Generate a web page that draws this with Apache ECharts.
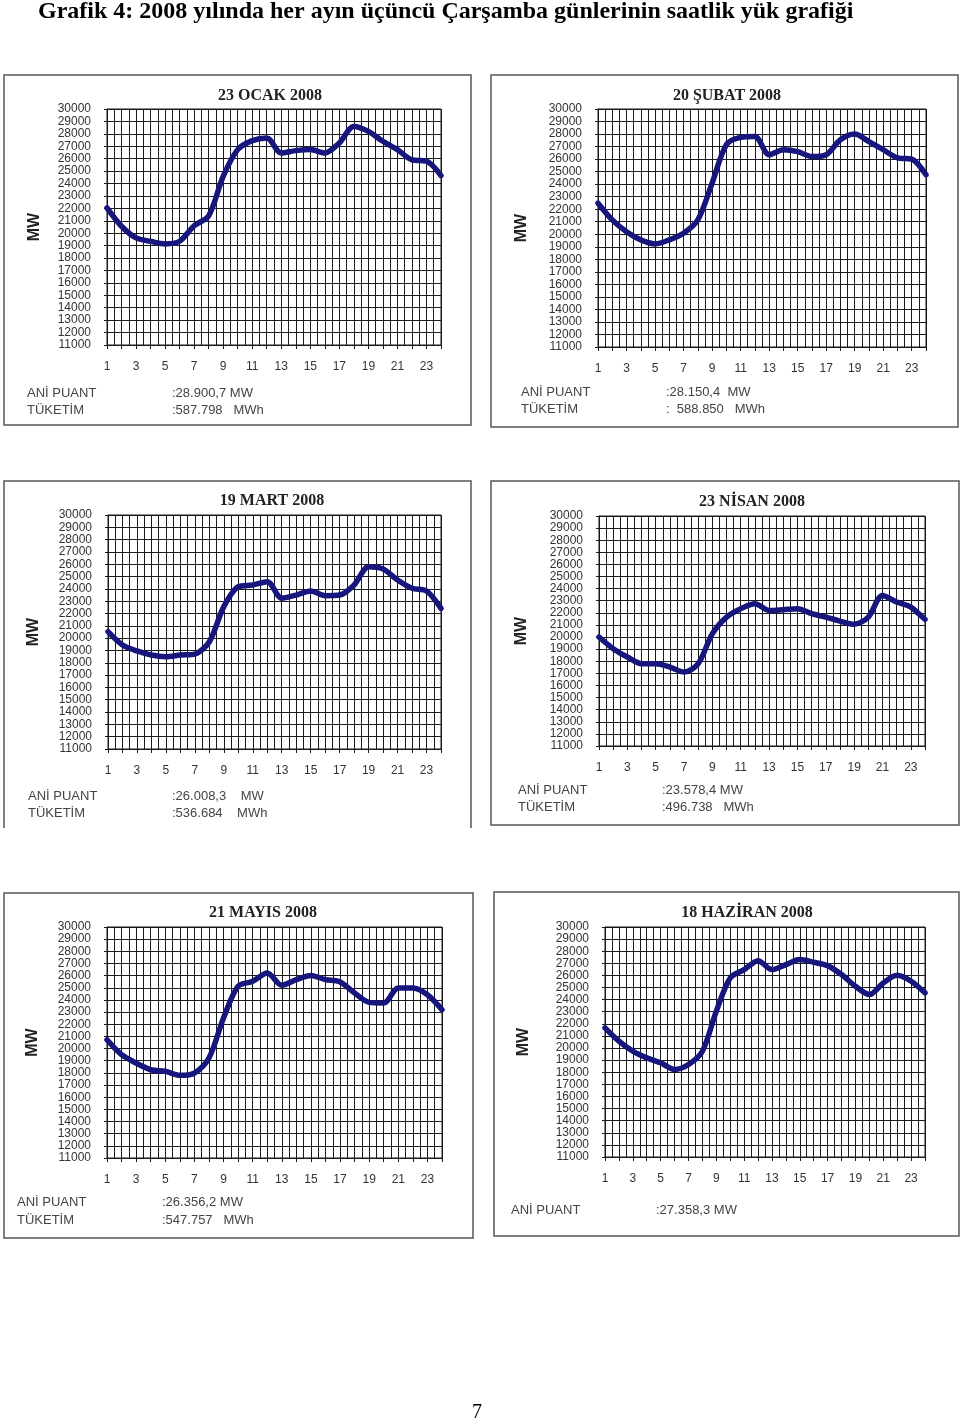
<!DOCTYPE html>
<html><head><meta charset="utf-8">
<script src="https://cdn.jsdelivr.net/npm/echarts@6/dist/echarts.min.js"></script>
<style>html,body{margin:0;padding:0;background:#fff}#c{width:960px;height:1423px}</style>
</head><body><div id="c"></div>
<script>
const hours = [1,2,3,4,5,6,7,8,9,10,11,12,13,14,15,16,17,18,19,20,21,22,23,24];
const yTicks = [11000,12000,13000,14000,15000,16000,17000,18000,19000,20000,21000,22000,23000,24000,25000,26000,27000,28000,29000,30000];
const pageTitle = 'Grafik 4: 2008 yılında her ayın üçüncü Çarşamba günlerinin saatlik yük grafiği';
const panelTitles = ['23 OCAK 2008','20 ŞUBAT 2008','19 MART 2008','23 NİSAN 2008','21 MAYIS 2008','18 HAZİRAN 2008'];
const ocak    = [22040,20560,19620,19350,19140,19350,20600,21400,24580,26730,27450,27670,26460,26650,26730,26460,27270,28600,28200,27400,26730,25900,25800,24640];
const subat   = [22480,21150,20200,19550,19230,19550,20080,21150,24080,27150,27730,27800,26350,26750,26600,26200,26350,27550,28000,27400,26750,26100,26000,24750];
const mart    = [20530,19450,18960,18630,18500,18630,18710,19710,22560,24180,24320,24590,23240,23500,23830,23450,23500,24320,25800,25620,24720,24050,23830,22420];
const nisan   = [20000,19040,18350,17800,17800,17520,17110,17800,20280,21650,22340,22750,22200,22260,22340,21930,21650,21320,21050,21650,23440,22890,22480,21460];
const mayis   = [20730,19500,18810,18260,18130,17800,17990,19220,22510,25120,25530,26220,25200,25670,26020,25670,25480,24570,23800,23750,24980,24980,24430,23200];
const haziran = [21670,20570,19740,19190,18780,18230,18640,19740,23040,25790,26480,27220,26480,26890,27310,27090,26810,26070,25100,24420,25380,26010,25520,24560];
const seriesData = [ocak,subat,mart,nisan,mayis,haziran];
const puantLabel = 'ANİ PUANT';
const tuketimLabel = 'TÜKETİM';
const puantValues = [':28.900,7 MW', ':28.150,4  MW', ':26.008,3    MW', ':23.578,4 MW', ':26.356,2 MW', ':27.358,3 MW'];
const tuketimValues = [':587.798   MWh', ':  588.850   MWh', ':536.684    MWh', ':496.738   MWh', ':547.757   MWh', null];

// layout (positions only)
const grids = [
  {left:107, top:109, width:334, height:236},
  {left:598, top:109, width:328, height:238},
  {left:108, top:515, width:333, height:234},
  {left:599, top:516, width:326, height:230},
  {left:107, top:927, width:335, height:231},
  {left:605, top:927, width:320, height:230}
];
const titlePos = [[270,88],[727,88],[272,493],[752,494],[263,905],[747,905]];
const nameGaps = [64, 68, 66, 69, 66, 73];
const textPos = [
  {lx:27, y1:393, y2:410, vx:172},
  {lx:521, y1:392, y2:409, vx:666},
  {lx:28, y1:796, y2:813, vx:172},
  {lx:518, y1:790, y2:807, vx:662},
  {lx:17, y1:1202, y2:1220, vx:162},
  {lx:511, y1:1210, y2:null, vx:656}
];
const boxes = [
  [4,75,471,425],[491,75,958,427],[4,481,471,828],[491,481,959,825],[4,893,473,1238],[494,892,959,1236]
];

const chart = echarts.init(document.getElementById('c'), null, {renderer:'canvas'});
const gridC = '#1a1a1a';
const option = {
  animation:false,
  backgroundColor:'#fff',
  title: [{
    text: pageTitle, left: 38, top: 0, padding:0,
    textStyle:{fontFamily:'Liberation Serif', fontWeight:'bold', fontSize:24, color:'#000'}
  }].concat(panelTitles.map((t,i)=>({
    text:t, left:titlePos[i][0], top:titlePos[i][1], textAlign:'center', padding:0,
    textStyle:{fontFamily:'Liberation Serif', fontWeight:'bold', fontSize:16, color:'#222'}
  }))),
  grid: grids.map(g=>Object.assign({containLabel:false, show:true, borderColor:gridC, borderWidth:1}, g)),
  xAxis: grids.map((g,i)=>({
    type:'value', gridIndex:i, min:1, max:24, interval:1,
    axisLine:{show:true, lineStyle:{color:gridC, width:1}},
    axisTick:{show:true, length:4, lineStyle:{color:gridC}},
    minorTick:{show:false, splitNumber:2},
    splitLine:{show:true, lineStyle:{color:gridC, width:1}},
    minorSplitLine:{show:true, lineStyle:{color:gridC, width:1}},
    axisLabel:{margin:16, fontFamily:'Liberation Sans', fontSize:12, color:'#333',
      formatter:v=> (hours.indexOf(v)>=0 && v%2===1) ? String(v) : ''}
  })),
  yAxis: grids.map((g,i)=>({
    type:'value', gridIndex:i, min:yTicks[0], max:yTicks[yTicks.length-1], interval:1000,
    name:'MW', nameLocation:'middle', nameGap:nameGaps[i], nameRotate:90,
    nameTextStyle:{fontFamily:'Liberation Sans', fontWeight:'bold', fontSize:16, color:'#222'},
    axisLine:{show:true, lineStyle:{color:gridC}},
    axisTick:{show:true, length:3, lineStyle:{color:gridC}},
    splitLine:{show:true, lineStyle:{color:gridC, width:1}},
    axisLabel:{margin:16, fontFamily:'Liberation Sans', fontSize:12, color:'#333', lineHeight:12,
      formatter:v=>String(v)}
  })),
  series: seriesData.map((d,i)=>({
    type:'line', xAxisIndex:i, yAxisIndex:i, smooth:0.3, symbol:'none',
    lineStyle:{color:'#16167c', width:5.5, cap:'round', join:'round'},
    data: d.map((v,k)=>[hours[k], v])
  })),
  graphic: []
};
const g = [];
boxes.forEach((b,i)=>{
  if (i===2) {
    g.push({type:'polyline', shape:{points:[[b[0],b[3]],[b[0],b[1]],[b[2],b[1]],[b[2],b[3]]]}, style:{stroke:'#555', lineWidth:1.5, fill:null}});
  } else {
    g.push({type:'rect', shape:{x:b[0], y:b[1], width:b[2]-b[0], height:b[3]-b[1]}, style:{stroke:'#555', lineWidth:1.5, fill:null}});
  }
});
textPos.forEach((p,i)=>{
  const st = {fontFamily:'Liberation Sans', fontSize:13, fill:'#444', textVerticalAlign:'middle', verticalAlign:'middle'};
  g.push({type:'text', x:p.lx, y:p.y1, style:Object.assign({text:puantLabel}, st)});
  g.push({type:'text', x:p.vx, y:p.y1, style:Object.assign({text:puantValues[i]}, st)});
  if (tuketimValues[i]) {
    g.push({type:'text', x:p.lx, y:p.y2, style:Object.assign({text:tuketimLabel}, st)});
    g.push({type:'text', x:p.vx, y:p.y2, style:Object.assign({text:tuketimValues[i]}, st)});
  }
});
g.push({type:'text', x:472, y:1413, style:{text:'7', fontFamily:'Liberation Serif', fontSize:20, fill:'#000', verticalAlign:'middle', textVerticalAlign:'middle'}});
option.graphic = g;
chart.setOption(option);
</script>
</body></html>
